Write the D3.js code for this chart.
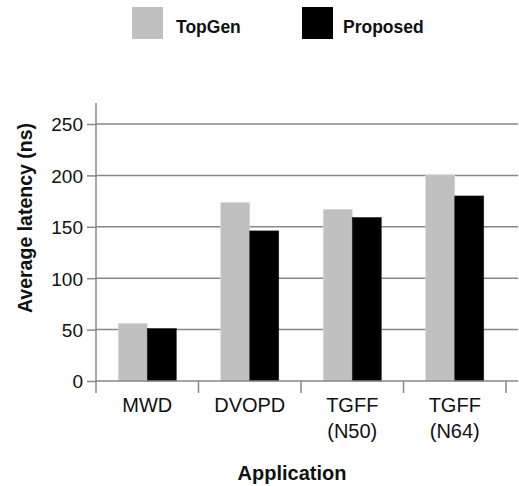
<!DOCTYPE html>
<html>
<head>
<meta charset="utf-8">
<script src="https://cdn.jsdelivr.net/npm/d3@7"></script>
<style>
  html, body { margin: 0; padding: 0; background: #fff; }
  svg { display: block; font-family: "Liberation Sans", Arial, sans-serif; }
</style>
</head>
<body>
<svg id="chart" width="519" height="486"></svg>
<script>
const categories = ["MWD", "DVOPD", "TGFF\n(N50)", "TGFF\n(N64)"];
const seriesNames = ["TopGen", "Proposed"];
const topGen = [56, 173.5, 167, 200];
const proposed = [51, 146, 159, 180];
const yTicks = [0, 50, 100, 150, 200, 250];
const colors = ["#c0c0c0", "#000000"];

const svg = d3.select("#chart");
const axisColor = "#878787";

const x0 = 96, x1 = 506, gridRight = 518;
const yTop = 103, yBase = 381;

const x = d3.scaleBand().domain(categories).range([x0, x1]).paddingInner(0.434).paddingOuter(0.217);
const xs = d3.scaleBand().domain(seriesNames).range([0, x.bandwidth()]).padding(0);
const y = d3.scaleLinear().domain([0, 250]).range([yBase, 124]);

// gridlines
svg.append("g").selectAll("line").data(yTicks.filter(d => d > 0)).join("line")
  .attr("x1", x0).attr("x2", gridRight)
  .attr("y1", d => y(d)).attr("y2", d => y(d))
  .attr("stroke", axisColor).attr("stroke-width", 1.5);

// bars
const data = categories.map((c, i) => ({ c, vals: [topGen[i], proposed[i]] }));
const groups = svg.append("g").selectAll("g").data(data).join("g")
  .attr("transform", d => `translate(${x(d.c)},0)`);
groups.selectAll("rect").data(d => d.vals.map((v, j) => ({ s: seriesNames[j], v, j }))).join("rect")
  .attr("x", d => xs(d.s))
  .attr("width", xs.bandwidth())
  .attr("y", d => y(d.v))
  .attr("height", d => y(0) - y(d.v))
  .attr("fill", d => colors[d.j])
  .attr("stroke", d => d.j === 0 ? "#d8d8d8" : "#222")
  .attr("stroke-width", 0.6);

// y axis
const yAxis = d3.axisLeft(y).tickValues(yTicks).tickSize(9).tickPadding(4);
const yg = svg.append("g").attr("transform", `translate(${x0},0)`).call(yAxis);
yg.select(".domain").remove();
yg.selectAll(".tick line").attr("stroke", axisColor).attr("stroke-width", 1.5);
yg.selectAll(".tick text").attr("font-size", 19).attr("fill", "#111")
  .attr("font-family", "Liberation Sans, Arial, sans-serif").attr("dy", "0.36em");
svg.append("line").attr("x1", x0).attr("x2", x0).attr("y1", yTop).attr("y2", 393)
  .attr("stroke", axisColor).attr("stroke-width", 1.5);

// x axis baseline
svg.append("line").attr("x1", x0).attr("x2", gridRight).attr("y1", yBase).attr("y2", yBase)
  .attr("stroke", axisColor).attr("stroke-width", 1.5);
// category separators ticks
const step = x.step();
svg.append("g").selectAll("line").data(categories).join("line")
  .attr("x1", (d, i) => x0 + (i + 1) * step).attr("x2", (d, i) => x0 + (i + 1) * step)
  .attr("y1", yBase).attr("y2", 393)
  .attr("stroke", axisColor).attr("stroke-width", 1.5);

// x labels
const xl = svg.append("g").selectAll("text").data(categories).join("text")
  .attr("x", d => x(d) + x.bandwidth() / 2)
  .attr("y", 411.5)
  .attr("text-anchor", "middle")
  .attr("font-size", 20).attr("fill", "#111");
xl.selectAll("tspan").data(d => d.split("\n")).join("tspan")
  .attr("x", function () { return d3.select(this.parentNode).attr("x"); })
  .attr("dy", (d, i) => i === 0 ? 0 : 26)
  .text(d => d);

// axis titles
svg.append("text").attr("x", 292).attr("y", 480).attr("text-anchor", "middle")
  .attr("font-size", 20).attr("font-weight", "bold").attr("fill", "#111").text("Application");
svg.append("text").attr("transform", "translate(32,218) rotate(-90)").attr("text-anchor", "middle")
  .attr("font-size", 19.5).attr("font-weight", "bold").attr("fill", "#111").text("Average latency (ns)");

// legend
const legendX = [132, 302];
const lg = svg.append("g").selectAll("g").data(seriesNames).join("g")
  .attr("transform", (d, i) => `translate(${legendX[i]},7)`);
lg.append("rect").attr("width", 31).attr("height", 32).attr("fill", (d, i) => colors[i]);
lg.append("text").attr("x", (d, i) => i === 0 ? 44 : 41).attr("y", 26)
  .attr("font-size", 17.5).attr("font-weight", "bold").attr("fill", "#111").text(d => d);
</script>
</body>
</html>
